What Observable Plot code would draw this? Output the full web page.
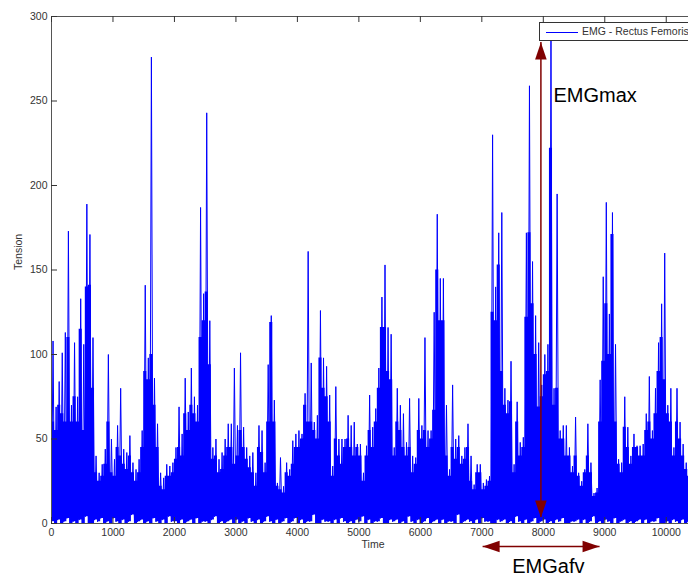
<!DOCTYPE html>
<html>
<head>
<meta charset="utf-8">
<script src="https://cdn.jsdelivr.net/npm/d3@7"></script>
<script src="https://cdn.jsdelivr.net/npm/@observablehq/plot@0.6"></script>
<style>
  html, body { margin: 0; padding: 0; background: #fff; }
  #wrap { position: relative; width: 688px; height: 576px; overflow: hidden; font-family: "Liberation Sans", Arial, sans-serif; }
  #legend { position: absolute; left: 539px; top: 22px; width: 170px; height: 19px; background: #fff; border: 1px solid #333; box-sizing: border-box; }
  #legend .swatch { position: absolute; left: 6px; top: 9px; width: 32px; height: 0; border-top: 1px solid #0000ff; }
  #legend .lab { position: absolute; left: 42px; top: 2px; font-size: 10.5px; color: #333; white-space: nowrap; line-height: 13px; }
</style>
</head>
<body>
<div id="wrap">
  <div id="chart"></div>
  <div id="legend"><div class="swatch"></div><div class="lab">EMG - Rectus Femoris</div></div>
</div>
<script>
// Width of one bin (Time units)
const binStep = 50;

// Highest spike of the EMG signal in each 50-unit bin
const peaks = [
  108, 69, 84, 101, 113, 173, 70, 107, 75, 133,
  106, 189, 171, 110, 40, 30, 35, 44, 100, 50,
  38, 58, 80, 44, 42, 52, 36, 32, 38, 55,
  141, 98, 276, 86, 59, 30, 27, 35, 34, 36,
  45, 69, 53, 86, 66, 92, 75, 70, 187, 136,
  243, 120, 45, 50, 38, 42, 50, 59, 59, 92,
  58, 101, 57, 45, 40, 42, 30, 58, 55, 36,
  94, 123, 73, 24, 39, 22, 36, 32, 49, 53,
  55, 53, 77, 161, 95, 60, 64, 126, 98, 93,
  76, 34, 81, 50, 50, 50, 64, 58, 60, 47,
  47, 30, 46, 76, 57, 68, 92, 134, 153, 116,
  112, 45, 80, 70, 65, 48, 74, 40, 39, 74,
  58, 110, 55, 55, 125, 183, 145, 145, 70, 32,
  82, 50, 52, 40, 45, 59, 40, 23, 35, 35,
  24, 26, 28, 230, 140, 172, 184, 80, 73, 96,
  35, 72, 48, 51, 172, 259, 155, 123, 107, 82,
  100, 106, 292, 80, 195, 55, 58, 58, 45, 34,
  63, 30, 25, 32, 59, 36, 18, 21, 85, 146,
  190, 124, 184, 106, 38, 36, 75, 57, 40, 53,
  46, 46, 47, 65, 87, 55, 80, 107, 130, 160,
  70, 80, 45, 80, 60, 47, 36, 30
];

// Top of the solid mass of the trace in each 50-unit bin
const body = [
  60, 55, 70, 65, 60, 110, 60, 75, 60, 115,
  55, 140, 141, 80, 30, 25, 28, 35, 60, 30,
  28, 45, 40, 35, 32, 40, 30, 25, 30, 45,
  90, 85, 100, 70, 45, 22, 20, 28, 28, 30,
  38, 45, 40, 65, 55, 70, 65, 60, 110, 120,
  137, 94, 38, 40, 30, 32, 40, 45, 45, 35,
  40, 55, 45, 38, 33, 30, 22, 45, 42, 30,
  60, 119, 60, 22, 20, 18, 30, 28, 35, 45,
  45, 50, 70, 60, 60, 55, 50, 98, 80, 75,
  60, 28, 50, 40, 35, 45, 50, 45, 40, 45,
  40, 25, 40, 55, 45, 60, 80, 116, 116, 90,
  85, 40, 60, 55, 45, 40, 45, 30, 35, 55,
  50, 55, 45, 50, 67, 150, 120, 120, 40, 28,
  45, 38, 45, 35, 38, 45, 25, 20, 30, 30,
  20, 22, 25, 125, 120, 153, 90, 70, 65, 72,
  30, 60, 40, 45, 122, 172, 130, 100, 69, 75,
  88, 90, 222, 70, 80, 50, 50, 40, 40, 30,
  40, 28, 22, 30, 40, 30, 16, 18, 60, 96,
  130, 100, 171, 60, 35, 30, 57, 45, 35, 45,
  45, 40, 40, 55, 60, 50, 65, 90, 110, 85,
  65, 60, 40, 60, 50, 40, 32, 28
];

// Floor of the signal in each 50-unit bin
const lows = [
  1, 0, 2, 0, 1, 3, 0, 1, 0, 2, 0, 4, 0, 0, 2, 1, 3, 0, 1, 0,
  3, 1, 0, 2, 0, 1, 5, 0, 1, 2, 0, 1, 0, 3, 1, 0, 2, 0, 4, 1,
  1, 0, 2, 0, 1, 2, 0, 3, 0, 1, 1, 0, 2, 4, 0, 1, 0, 1, 2, 0,
  2, 0, 1, 0, 3, 1, 0, 2, 0, 1, 4, 1, 0, 2, 0, 1, 3, 0, 1, 3,
  0, 2, 0, 1, 1, 5, 0, 0, 2, 1, 1, 0, 2, 0, 3, 1, 0, 1, 0, 2,
  1, 4, 0, 2, 0, 1, 1, 3, 0, 0, 2, 1, 2, 0, 1, 0, 4, 1, 0, 2,
  0, 1, 3, 0, 1, 2, 0, 2, 0, 1, 1, 0, 5, 0, 1, 2, 1, 0, 2, 0,
  3, 1, 1, 0, 0, 2, 1, 2, 0, 1, 0, 4, 1, 0, 2, 0, 1, 3, 0, 1,
  2, 0, 1, 0, 2, 1, 3, 0, 0, 1, 1, 2, 0, 2, 0, 1, 4, 0, 1, 0,
  2, 1, 0, 3, 0, 1, 2, 0, 1, 0, 1, 2, 0, 2, 0, 1, 1, 3, 0, 0,
  1, 0, 2, 1, 0, 2, 0, 1
];

const xTicks = [0, 1000, 2000, 3000, 4000, 5000, 6000, 7000, 8000, 9000, 10000];
const yTicks = [0, 50, 100, 150, 200, 250, 300];
const xDomain = [0, 10362];
const yDomain = [0, 300];

// Annotations (data coordinates)
const maxArrow = [{t: 7961, y1: 3.5, y2: 284.6}];
const afvArrow = [{t1: 7013, t2: 8915, y: -13.6}];
const arrowHeads = [
  {t: 7961, y: 284.6, angle: 0},
  {t: 7961, y: 3.5, angle: 180},
  {t: 7013, y: -13.6, angle: -90},
  {t: 8915, y: -13.6, angle: 90}
];
const notes = [
  {label: "EMGmax", t: 8165, y: 249.5},
  {label: "EMGafv", t: 7495, y: -29}
];

// Table of bins
const bins = peaks.map((p, i) => ({t: i * binStep, peak: p, body: Math.min(body[i], p), low: lows[i]}));
bins.push({t: bins.length * binStep, peak: lows[0], body: lows[0], low: lows[0]});

// Zig-zag spikes: floor -> peak -> floor
const spikes = [];
bins.forEach(d => {
  spikes.push({t: d.t, v: d.low});
  spikes.push({t: d.t + binStep / 2, v: d.peak});
});

// Filled arrow head with its tip at the origin, pointing up
const headSymbol = {
  draw(ctx) {
    ctx.moveTo(0, 0);
    ctx.lineTo(5.8, 17);
    ctx.lineTo(-5.8, 17);
    ctx.closePath();
  }
};

const font = "'Liberation Sans', Arial, sans-serif";
const axisColor = "#333";
const dark = "#800000";
const blue = "#0000ff";
const fmt = d => String(d);

const chart = Plot.plot({
  width: 688,
  height: 576,
  marginLeft: 51,
  marginRight: 0,
  marginTop: 16,
  marginBottom: 53,
  x: {domain: xDomain},
  y: {domain: yDomain},
  style: {fontFamily: font, fontSize: "10.5px", color: axisColor, background: "transparent", overflow: "visible"},
  marks: [
    Plot.areaY(bins, {x: "t", y1: "low", y2: "body", curve: "step-after", fill: blue, clip: true}),
    Plot.line(spikes, {x: "t", y: "v", stroke: blue, strokeWidth: 1, clip: true}),
    // frame (left, bottom, top)
    Plot.ruleX([0], {stroke: "#555"}),
    Plot.ruleY([yDomain[0], yDomain[1]], {stroke: "#555"}),
    // inward ticks
    Plot.tickX(xTicks, {x: d => d, insetTop: 501, stroke: axisColor}),
    Plot.tickX(xTicks, {x: d => d, insetBottom: 501, stroke: axisColor}),
    Plot.tickY(yTicks, {y: d => d, insetRight: 631, stroke: axisColor}),
    // tick labels
    Plot.axisX({ticks: xTicks, tickSize: 0, tickPadding: 5, label: null, fontSize: 10.5, tickFormat: fmt}),
    Plot.axisY({ticks: yTicks, tickSize: 0, tickPadding: 4, label: null, fontSize: 10.5, tickFormat: fmt}),
    // axis titles
    Plot.text(["Time"], {frameAnchor: "bottom", dx: 3, dy: 21, lineAnchor: "middle", fontSize: 10.5, fill: axisColor}),
    Plot.text(["Tension"], {frameAnchor: "left", dx: -33, rotate: -90, lineAnchor: "middle", fontSize: 10.5, fill: axisColor}),
    // EMGmax arrow
    Plot.ruleX(maxArrow, {x: "t", y1: "y1", y2: "y2", stroke: dark, strokeWidth: 1.5}),
    // EMGafv arrow
    Plot.link(afvArrow, {x1: "t1", x2: "t2", y1: "y", y2: "y", stroke: dark, strokeWidth: 1.5}),
    Plot.dot(arrowHeads, {x: "t", y: "y", rotate: "angle", symbol: headSymbol, fill: dark, stroke: null, r: 5}),
    Plot.text(notes, {x: "t", y: "y", text: "label", textAnchor: "start", lineAnchor: "bottom", fontSize: 20, fill: "#000"})
  ]
});

document.getElementById("chart").appendChild(chart);
</script>
</body>
</html>
